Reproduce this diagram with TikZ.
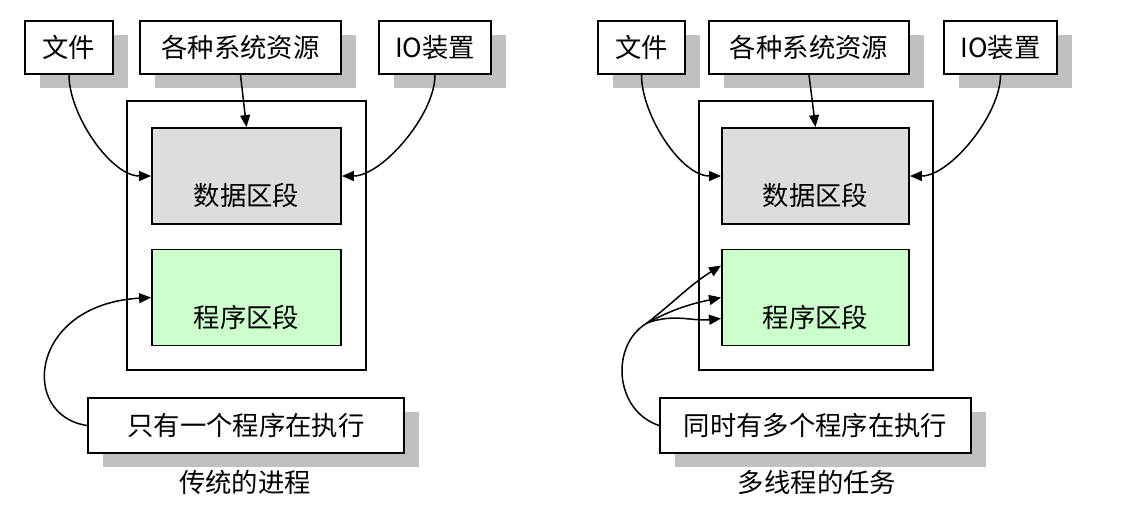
\documentclass[tikz,border=0pt]{standalone}
\usepackage{fontspec}
\usepackage{tikz}
\usetikzlibrary{arrows.meta, shadows}
\usepackage{xcolor}
\newfontfamily\cjkfont{Noto Sans CJK SC}
\definecolor{ShadowGray}{HTML}{C0C0C0}
\definecolor{DataFill}{HTML}{DDDDDD}
\definecolor{CodeFill}{HTML}{CCFFCC}
\tikzset{
  lbl/.style={font=\cjkfont\fontsize{15}{18}\selectfont},
  tbox/.style={lbl, draw, line width=1.1pt, fill=white, minimum height=1.06cm, inner sep=0pt,
    drop shadow={shadow xshift=0.3cm, shadow yshift=-0.28cm, fill=ShadowGray, opacity=1}},
  obox/.style={draw, line width=1.1pt, minimum height=5.38cm, inner sep=0pt},
  seg/.style={lbl, draw, line width=1.1pt, text height=1.55cm, text depth=0.37cm, inner sep=0pt},
  flow/.style={-{Triangle[length=2.4mm, width=2mm]}, line width=0.85pt},
}

\begin{document}
\begin{tikzpicture}[x=0.02cm, y=-0.02cm]
    \useasboundingbox (0,0) rectangle (1140,515);
    % traditional process
    \node[obox, minimum width=4.78cm] (proc) at (246.5,235.5) {};
    \node[seg, fill=DataFill, minimum width=3.78cm] (data) at (246.5,176) {数据区段};
    \node[seg, fill=CodeFill, minimum width=3.78cm] (code) at (246.5,297.5) {程序区段};
    \node[tbox, minimum width=1.76cm] (file) at (69,47.5) {文件};
    \node[tbox, minimum width=4.02cm] (res) at (240.5,47.5) {各种系统资源};
    \node[tbox, minimum width=2.24cm] (io) at (435,47.5) {IO装置};
    \node[tbox, minimum width=6.32cm, minimum height=1.1cm] (single) at (246,425.5) {只有一个程序在执行};
    \node[lbl] (cap1) at (245,482) {传统的进程};
    \draw[flow] (file.south) .. controls +(0,40) and +(-40,0) .. (data.west);
    \draw[flow] (res.south) -- (data.north);
    \draw[flow] (io.south) .. controls +(0,40) and +(40,0) .. (data.east);
    \draw[flow] (single.west) .. controls +(-68,-10) and +(-122,7) .. (code.west);

    % multithreaded task
    \node[obox, minimum width=4.68cm] (proc2) at (816,235.5) {};
    \node[seg, fill=DataFill, minimum width=3.74cm] (data2) at (815.5,176) {数据区段};
    \node[seg, fill=CodeFill, minimum width=3.74cm] (code2) at (815.5,297.5) {程序区段};
    \node[tbox, minimum width=1.74cm] (file2) at (641.5,47.5) {文件};
    \node[tbox, minimum width=4.0cm] (res2) at (809,47.5) {各种系统资源};
    \node[tbox, minimum width=2.26cm] (io2) at (1000.5,47.5) {IO装置};
    \node[tbox, minimum width=6.22cm, minimum height=1.1cm] (multi) at (815.5,425.5) {同时有多个程序在执行};
    \node[lbl] (cap2) at (817,482) {多线程的任务};
    \draw[flow] (file2.south) .. controls +(0,40) and +(-40,0) .. (data2.west);
    \draw[flow] (res2.south) -- (data2.north);
    \draw[flow] (io2.south) .. controls +(0,40) and +(40,0) .. (data2.east);
    \coordinate (fork) at (647,323);
    \draw[line width=0.85pt] (multi.west) .. controls +(-45,-15) and +(-37,22) .. (fork);
    \draw[flow] (fork) to[out=38, in=212] ([yshift=0.64cm]code2.west);
    \draw[flow] (fork) to[out=28, in=192] (code2.west);
    \draw[flow] (fork) to[out=20, in=186] ([yshift=-0.42cm]code2.west);
  \end{tikzpicture}
\end{document}
